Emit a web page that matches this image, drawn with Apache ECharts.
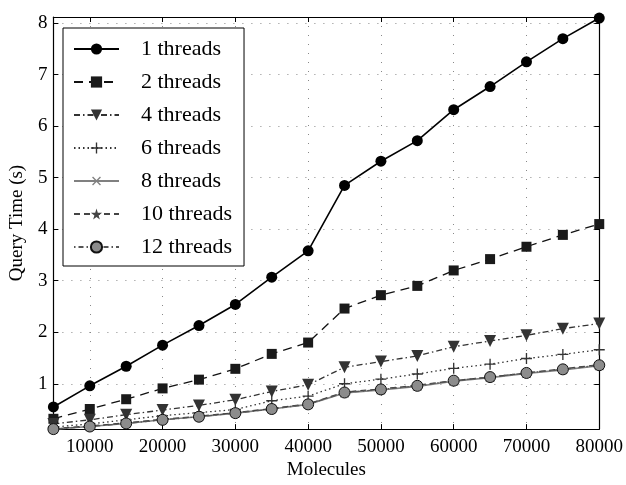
<!DOCTYPE html>
<html>
<head>
<meta charset="utf-8">
<script src="https://cdn.jsdelivr.net/npm/echarts@6/dist/echarts.min.js"></script>
<style>
html,body{margin:0;padding:0;background:#fff;}
#chart{width:626px;height:485px;}
</style>
</head>
<body>
<div id="chart"></div>
<script>
// molecules on x
var molecules=[5000,10000,15000,20000,25000,30000,35000,40000,45000,50000,55000,60000,65000,70000,75000,80000];
var xTicks=[10000,20000,30000,40000,50000,60000,70000,80000];
var yTicks=[1,2,3,4,5,6,7,8];
// query time (s) per thread count
var t1=[0.55,0.96,1.34,1.75,2.13,2.54,3.07,3.58,4.85,5.32,5.72,6.32,6.77,7.25,7.70,8.10];
var t2=[0.32,0.51,0.70,0.91,1.08,1.29,1.58,1.80,2.46,2.72,2.90,3.20,3.42,3.66,3.89,4.10];
var t4=[0.22,0.30,0.40,0.49,0.58,0.69,0.85,0.98,1.32,1.43,1.54,1.72,1.83,1.94,2.07,2.17];
var t6=[0.16,0.22,0.30,0.38,0.44,0.50,0.67,0.76,1.00,1.09,1.19,1.30,1.38,1.49,1.57,1.66];
var t8=[0.12,0.17,0.23,0.30,0.36,0.43,0.51,0.60,0.82,0.88,0.95,1.05,1.12,1.20,1.27,1.35];
var t10=[0.13,0.18,0.24,0.31,0.37,0.44,0.52,0.61,0.84,0.90,0.97,1.06,1.13,1.21,1.29,1.37];
var t12=[0.12,0.17,0.23,0.30,0.36,0.43,0.51,0.60,0.83,0.89,0.96,1.06,1.13,1.21,1.28,1.36];

var FONT='"Liberation Serif","Times New Roman",serif';
var PLUS='path://M4.4,0h1.2v10h-1.2z M0,4.4h10v1.2h-10z';
var STAR='path://M50,0 L61,35 L98,35 L68,57 L79,91 L50,70 L21,91 L32,57 L2,35 L39,35 Z';

function pairs(arr){
	var out=[];
	for(var i=0;i<molecules.length;i++){out.push([molecules[i],arr[i]]);}
	return out;
}
function mk(name,arr,o){
	return {
		name:name,type:'line',data:pairs(arr),
		symbol:o.symbol,symbolSize:o.size,symbolRotate:o.rot||0,
		showSymbol:true,clip:false,
		lineStyle:{color:o.line,width:o.lw||1.3,type:o.type||'solid'},
		itemStyle:{color:o.fill,borderColor:o.border||o.fill,borderWidth:o.bw||0,opacity:1},
		emphasis:{disabled:true},z:o.z||2,animation:false
	};
}

var series=[
	mk('1 threads',t1,{symbol:'circle',size:11,line:'#000',fill:'#000',lw:1.6}),
	mk('2 threads',t2,{symbol:'rect',size:10,line:'#111',fill:'#1a1a1a',type:[9,6]}),
	mk('4 threads',t4,{symbol:'triangle',rot:180,size:12,line:'#333',fill:'#333',type:[6,3,1.5,3]}),
	mk('6 threads',t6,{symbol:PLUS,size:11,line:'#333',fill:'#333',type:[1.5,3]}),
	mk('8 threads',t8,{symbol:PLUS,rot:45,size:12,line:'#808080',fill:'#808080',lw:1.6}),
	mk('10 threads',t10,{symbol:STAR,size:8,line:'#444',fill:'#444',type:[6,4]}),
	mk('12 threads',t12,{symbol:'circle',size:11,line:'#555',fill:'#8c8c8c',border:'#111',bw:1,type:[1.5,3,5,3],z:3})
];

var myChart=echarts.init(document.getElementById('chart'));
myChart.setOption({
	animation:false,
	backgroundColor:'#fff',
	grid:{left:52,right:26,top:17,bottom:44,show:false},
	legend:{
		orient:'vertical',left:63,top:28,
		backgroundColor:'#fff',borderColor:'#000',borderWidth:1,
		padding:[10,12,8,10],itemWidth:45,itemHeight:14,itemGap:11,
		textStyle:{fontFamily:FONT,fontSize:22,color:'#000',padding:[0,0,0,17],lineHeight:22},
		z:10
	},
	xAxis:[{
		type:'value',min:5000,max:80000,position:'bottom',
		name:'Molecules',nameLocation:'middle',nameGap:25,
		nameTextStyle:{fontFamily:FONT,fontSize:19,color:'#000'},
		axisLine:{onZero:false,lineStyle:{color:'#000',width:1.2}},
		axisTick:{inside:true,length:5,customValues:xTicks,lineStyle:{color:'#000'}},
		axisLabel:{customValues:xTicks,fontFamily:FONT,fontSize:19,color:'#000',margin:8,
			formatter:function(v){return String(v);}},
		splitLine:{show:true,lineStyle:{color:'#888',type:[1,8],width:1}}
	},{
		type:'value',min:5000,max:80000,position:'top',
		axisLine:{onZero:false,lineStyle:{color:'#000',width:1.2}},
		axisTick:{inside:true,length:5,customValues:xTicks,lineStyle:{color:'#000'}},
		axisLabel:{show:false},splitLine:{show:false}
	}],
	yAxis:[{
		type:'value',min:0.12,max:8.12,position:'left',
		name:'Query Time (s)',nameLocation:'middle',nameGap:17,
		nameTextStyle:{fontFamily:FONT,fontSize:19,color:'#000'},
		axisLine:{show:true,onZero:false,lineStyle:{color:'#000',width:1.2}},
		axisTick:{show:true,inside:true,length:5,customValues:yTicks,lineStyle:{color:'#000'}},
		axisLabel:{customValues:yTicks,fontFamily:FONT,fontSize:19,color:'#000',margin:6},
		splitLine:{show:true,lineStyle:{color:'#888',type:[1,8],width:1}}
	},{
		type:'value',min:0.12,max:8.12,position:'right',
		axisLine:{show:true,onZero:false,lineStyle:{color:'#000',width:1.2}},
		axisTick:{show:true,inside:true,length:5,customValues:yTicks,lineStyle:{color:'#000'}},
		axisLabel:{show:false},splitLine:{show:false}
	}],
	series:series
});
</script>
</body>
</html>
